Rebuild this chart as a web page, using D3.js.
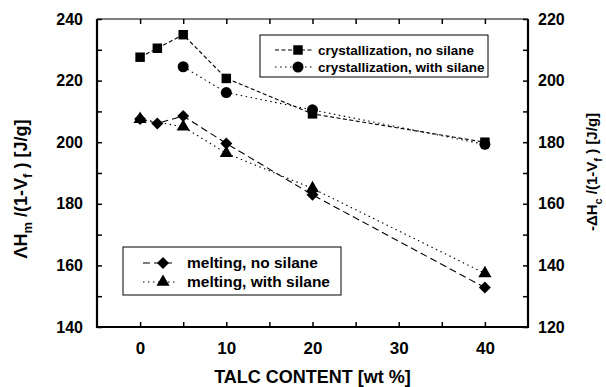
<!DOCTYPE html>
<html>
<head>
<meta charset="utf-8">
<script src="https://cdn.jsdelivr.net/npm/d3@7"></script>
<style>
  body { margin: 0; background: #fff; }
  text { font-family: "Liberation Sans", Arial, sans-serif; font-weight: bold; fill: #000; }
</style>
</head>
<body>
<div class="chart"></div>
<script>
// data
var xTicks = [0, 10, 20, 30, 40];
var yLeftTicks = [140, 160, 180, 200, 220, 240];
var yRightTicks = [120, 140, 160, 180, 200, 220];

var crystNoX = [0, 2, 5, 10, 20, 40];
var crystNoY = [207.6, 210.5, 214.9, 200.7, 189.2, 180.0];
var crystSilX = [5, 10, 20, 40];
var crystSilY = [204.5, 196.1, 190.5, 179.3];
var meltNoX = [0, 2, 5, 10, 20, 40];
var meltNoY = [207.5, 206.1, 208.5, 199.6, 182.9, 152.8];
var meltSilX = [0, 5, 10, 20, 40];
var meltSilY = [207.5, 205.0, 196.4, 185.0, 157.4];

var svgWidth = 606;
var svgHeight = 387;
var margin = { top: 19, right: 78, bottom: 60, left: 97 };
var width = svgWidth - margin.left - margin.right;
var height = svgHeight - margin.top - margin.bottom;

var svg = d3.select(".chart").append("svg")
  .attr("width", svgWidth)
  .attr("height", svgHeight);

var chartGroup = svg.append("g")
  .attr("transform", `translate(${margin.left}, ${margin.top})`);

var x = d3.scaleLinear().domain([-5, 45]).range([0, width]);
var yL = d3.scaleLinear().domain([140, 240]).range([height, 0]);
var yR = d3.scaleLinear().domain([120, 220]).range([height, 0]);

// minor ticks (inward)
var minorX = d3.range(0, 45, 5);
var minorY = d3.range(140, 241, 10);
chartGroup.append("g").attr("transform", `translate(0, ${height})`)
  .call(d3.axisBottom(x).tickValues(minorX).tickSize(-5).tickFormat(""))
  .call(g => g.select(".domain").remove());
chartGroup.append("g")
  .call(d3.axisTop(x).tickValues(minorX).tickSize(-5).tickFormat(""))
  .call(g => g.select(".domain").remove());
chartGroup.append("g")
  .call(d3.axisLeft(yL).tickValues(minorY).tickSize(-5).tickFormat(""))
  .call(g => g.select(".domain").remove());
chartGroup.append("g").attr("transform", `translate(${width}, 0)`)
  .call(d3.axisRight(yL).tickValues(minorY).tickSize(-5).tickFormat(""))
  .call(g => g.select(".domain").remove());
chartGroup.selectAll(".tick line").attr("stroke-width", 1.5);

// main axes with labels
var xAxis = chartGroup.append("g").attr("transform", `translate(0, ${height})`)
  .call(d3.axisBottom(x).tickValues(xTicks).tickSize(0).tickPadding(15));
var yAxisL = chartGroup.append("g")
  .call(d3.axisLeft(yL).tickValues(yLeftTicks).tickSize(0).tickPadding(14));
var yAxisR = chartGroup.append("g").attr("transform", `translate(${width}, 0)`)
  .call(d3.axisRight(yR).tickValues(yRightTicks).tickSize(0).tickPadding(10));
[xAxis, yAxisL, yAxisR].forEach(function(a) {
  a.select(".domain").remove();
  a.selectAll("text").style("font-size", "16px").style("font-family", "Liberation Sans, Arial, sans-serif");
});
xAxis.selectAll("text").style("font-size", "17px");

// frame
chartGroup.append("line").attr("x1", 0).attr("x2", width).attr("y1", 0).attr("y2", 0)
  .attr("stroke", "#000").attr("stroke-width", 1.2);
chartGroup.append("path")
  .attr("d", `M0,0V${height}H${width}V0`)
  .attr("fill", "none").attr("stroke", "#000").attr("stroke-width", 2.2);

// square-ish diamond marker
var wideDiamond = {
  draw: function(ctx, size) {
    var r = Math.sqrt(size / 2);
    ctx.moveTo(0, -r);
    ctx.lineTo(r, 0);
    ctx.lineTo(0, r);
    ctx.lineTo(-r, 0);
    ctx.closePath();
  }
};

// series
function zip(xs, ys) { return xs.map(function(v, i) { return [v, ys[i]]; }); }
var series = [
  { pts: zip(crystNoX, crystNoY), y: yR, dash: "4,2.5", sym: d3.symbolSquare, size: 90 },
  { pts: zip(crystSilX, crystSilY), y: yR, dash: "1.5,3.5", sym: d3.symbolCircle, size: 95 },
  { pts: zip(meltNoX, meltNoY), y: yL, dash: "7,4", sym: wideDiamond, size: 72 },
  { pts: zip(meltSilX, meltSilY), y: yL, dash: "1.5,3.5", sym: d3.symbolTriangle, size: 75 }
];

series.forEach(function(s) {
  var line = d3.line().x(d => x(d[0])).y(d => s.y(d[1]));
  chartGroup.append("path")
    .attr("d", line(s.pts))
    .attr("fill", "none")
    .attr("stroke", "#000")
    .attr("stroke-width", 1.1)
    .attr("stroke-dasharray", s.dash);
});
series.forEach(function(s) {
  chartGroup.selectAll(null)
    .data(s.pts)
    .enter()
    .append("path")
    .attr("d", d3.symbol().type(s.sym).size(s.size))
    .attr("transform", d => `translate(${x(d[0])}, ${s.y(d[1])})`)
    .attr("fill", "#000");
});

// legends
function legend(box, rows, fontSize, textX, mx, lineX1, lineX2) {
  svg.append("rect")
    .attr("x", box[0]).attr("y", box[1]).attr("width", box[2]).attr("height", box[3])
    .attr("fill", "#fff").attr("stroke", "#000").attr("stroke-width", 1);
  rows.forEach(function(r) {
    svg.append("line")
      .attr("x1", lineX1).attr("x2", lineX2).attr("y1", r.y).attr("y2", r.y)
      .attr("stroke", "#000").attr("stroke-width", 1.1)
      .attr("stroke-dasharray", r.s.dash);
    svg.append("path")
      .attr("d", d3.symbol().type(r.s.sym).size(r.s.size))
      .attr("transform", `translate(${mx}, ${r.y})`)
      .attr("fill", "#000");
    svg.append("text")
      .attr("x", textX).attr("y", r.y).attr("dy", "0.35em")
      .style("font-size", fontSize + "px")
      .text(r.label);
  });
}
legend([260, 35, 228, 42],
  [{ y: 50, s: series[0], label: "crystallization, no silane" },
   { y: 67, s: series[1], label: "crystallization, with silane" }],
  13.5, 318, 298, 275, 314);
legend([123, 247, 218, 48],
  [{ y: 263, s: series[2], label: "melting, no silane" },
   { y: 282, s: series[3], label: "melting, with silane" }],
  15.5, 187, 163, 143, 176);

// axis titles
svg.append("text")
  .attr("x", margin.left + x(20)).attr("y", 383)
  .attr("text-anchor", "middle")
  .style("font-size", "18px")
  .text("TALC CONTENT [wt %]");

var tl = svg.append("text")
  .attr("transform", `translate(27, 189) rotate(-90)`)
  .attr("text-anchor", "middle")
  .style("font-size", "18px");
tl.append("tspan").text("ΛH");
tl.append("tspan").attr("dy", 5).style("font-size", "13px").text("m");
tl.append("tspan").attr("dy", -5).text(" /(1-V");
tl.append("tspan").attr("dy", 5).style("font-size", "13px").text("f");
tl.append("tspan").attr("dy", -5).text(" ) [J/g]");

var tr = svg.append("text")
  .attr("transform", `translate(597, 172) rotate(-90)`)
  .attr("text-anchor", "middle")
  .style("font-size", "15px");
tr.append("tspan").text("-ΔH");
tr.append("tspan").attr("dy", 5).style("font-size", "11px").text("c");
tr.append("tspan").attr("dy", -5).text(" /(1-V");
tr.append("tspan").attr("dy", 5).style("font-size", "11px").text("f");
tr.append("tspan").attr("dy", -5).text(" ) [J/g]");
</script>
</body>
</html>
